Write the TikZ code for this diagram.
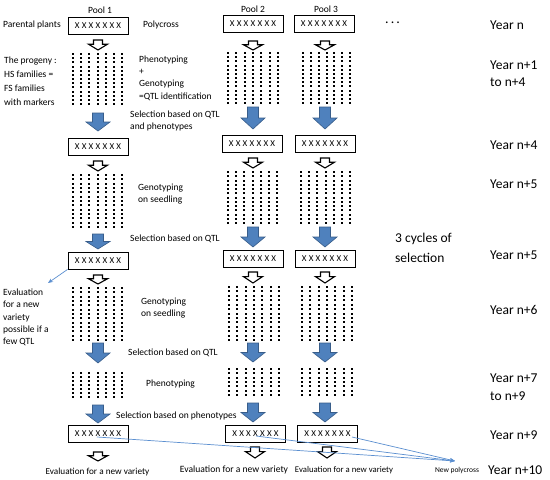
\documentclass[tikz,border=0pt]{standalone}
\usepackage{fontspec}
\setmainfont{Carlito}
\usetikzlibrary{arrows.meta}
\definecolor{arrowblue}{RGB}{79,129,189}
\definecolor{arrowedge}{RGB}{56,93,138}
\definecolor{thinblue}{RGB}{91,143,208}
\tikzset{
  lbl/.style={inner sep=0pt, font=\fontsize{9.5}{12}\selectfont, anchor=west, align=left},
  yr/.style={inner sep=0pt, font=\fontsize{13.5}{17.5}\selectfont, anchor=west, align=left},
  xbox/.style={draw=black, line width=0.8pt, fill=white, minimum width=60pt, minimum height=17pt, inner sep=0pt,
    font=\fontsize{9}{10}\selectfont\addfontfeature{LetterSpace=25}},
  openarrow/.style={draw=black, line width=1.1pt, fill=white, line join=miter},
  bluearrow/.style={fill=arrowblue, draw=arrowedge, line width=0.6pt, line join=miter},
  thinline/.style={draw=thinblue, line width=0.7pt},
  tipstyle/.style={-{Stealth[length=5pt,width=4pt]}},
}
% cx, ytop, ybot
\newcommand\openarr[3]{%
  \draw[openarrow] ({#1-4.5},#2) -- ({#1+4.5},#2) -- ({#1+4.5},{#2+0.42*(#3-#2)}) -- ({#1+9.5},{#2+0.42*(#3-#2)})
    -- (#1,#3) -- ({#1-9.5},{#2+0.42*(#3-#2)}) -- ({#1-4.5},{#2+0.42*(#3-#2)}) -- cycle;}
\newcommand\bluearr[3]{%
  \draw[bluearrow] ({#1-5.5},#2) -- ({#1+5.5},#2) -- ({#1+5.5},{#2+0.5*(#3-#2)}) -- ({#1+12},{#2+0.5*(#3-#2)})
    -- (#1,#3) -- ({#1-12},{#2+0.5*(#3-#2)}) -- ({#1-5.5},{#2+0.5*(#3-#2)}) -- cycle;}
% x0, x1, y0, y1, rows-1
\newcommand\dotmat[5]{%
  \foreach \i in {0,...,6}{\foreach \j in {0,...,#5}{%
    \fill ({round(#1+\i*(#2-#1)/6)-1},{round(#3+\j*(#4-#3)/#5)-1}) rectangle +(2,2);}}}
\begin{document}
\begin{tikzpicture}[x=1pt,y=-1pt]
\useasboundingbox (0,0) rectangle (550,480);
\fill[white] (0,0) rectangle (550,480);

% pool labels
\node[lbl, anchor=center] (pool1) at (100,10) {Pool 1};
\node[lbl, anchor=center] (pool2) at (253,9) {Pool 2};
\node[lbl, anchor=center] (pool3) at (326,9) {Pool 3};

% boxes
\node[xbox] (p1b1) at (98,25.5) {XXXXXXX};
\node[xbox] (p1b2) at (98,146.5) {XXXXXXX};
\node[xbox] (p1b3) at (98,260.5) {XXXXXXX};
\node[xbox] (p1b4) at (98,434) {XXXXXXX};
\node[xbox] (p2b1) at (253,24) {XXXXXXX};
\node[xbox] (p2b2) at (252,144) {XXXXXXX};
\node[xbox] (p2b3) at (253,259) {XXXXXXX};
\node[xbox] (p2b4) at (255.5,433.5) {XXXXXXX};
\node[xbox] (p3b1) at (324,24) {XXXXXXX};
\node[xbox] (p3b2) at (325,144) {XXXXXXX};
\node[xbox] (p3b3) at (325,259) {XXXXXXX};
\node[xbox] (p3b4) at (327.5,433.5) {XXXXXXX};

% open arrows
\openarr{98}{40}{50}\openarr{98}{161}{171}\openarr{98}{275}{284}\openarr{98}{452}{461}
\openarr{253}{41}{50}\openarr{253}{158}{168}\openarr{253}{272}{283}\openarr{255}{447}{458}
\openarr{325}{41}{50}\openarr{325}{158}{168}\openarr{325}{272}{283}\openarr{327}{447}{458}

% dot matrices
\dotmat{73}{122}{54}{104}{12}\dotmat{73}{122}{175}{227}{12}\dotmat{73}{122}{288}{340}{12}\dotmat{73}{122}{373}{397}{6}
\dotmat{228}{278}{53}{103}{12}\dotmat{228}{277}{172}{223}{12}\dotmat{229}{279}{287}{340}{12}\dotmat{229}{279}{369}{395}{6}
\dotmat{303}{350}{53}{103}{12}\dotmat{301}{350}{172}{223}{12}\dotmat{302}{352}{287}{340}{12}\dotmat{302}{352}{369}{395}{6}

% blue arrows
\bluearr{98}{113}{131}\bluearr{98}{234}{249}\bluearr{98}{343}{363}\bluearr{98}{405}{423}
\bluearr{253}{107}{129}\bluearr{253}{227}{247}\bluearr{253}{343}{362}\bluearr{253}{403}{422}
\bluearr{325}{107}{129}\bluearr{325}{227}{247}\bluearr{325}{343}{362}\bluearr{325}{403}{422}

% left texts
\node[lbl] (parental) at (3,25) {Parental plants};
\node[lbl] (polycross) at (143,25) {Polycross};
\node[yr, font=\fontsize{14}{17}\selectfont\addfontfeature{LetterSpace=15}] (dots) at (385,23) {...};
\node[lbl, font=\fontsize{9.5}{14}\selectfont] (progeny) at (4,81) {The progeny :\\HS families =\\FS families\\with markers};
\node[lbl, font=\fontsize{9.5}{12.3}\selectfont] (pheno1) at (139,78) {Phenotyping\\+\\Genotyping\\=QTL identification};
\node[lbl] (sel1) at (130,121) {Selection based on QTL\\and phenotypes};
\node[lbl] (geno1) at (138,194) {Genotyping\\on seedling};
\node[lbl] (sel2) at (130,239) {Selection based on QTL};
\node[yr, font=\fontsize{13.5}{19.5}\selectfont] (cycles) at (395,248) {3 cycles of\\selection};
\node[lbl, font=\fontsize{9.5}{12.2}\selectfont] (evalq) at (3,317.5) {Evaluation\\for a new\\variety\\possible if a\\few QTL};
\node[lbl] (geno2) at (141,308) {Genotyping\\on seedling};
\node[lbl] (sel3) at (128,353) {Selection based on QTL};
\node[lbl] (pheno2) at (146,384) {Phenotyping};
\node[lbl] (sel4) at (116,416) {Selection based on phenotypes};
\node[lbl, anchor=center, font=\fontsize{9.2}{11}\selectfont] (ev1) at (97.5,472) {Evaluation for a new variety};
\node[lbl, anchor=center, font=\fontsize{9.6}{11}\selectfont] (ev2) at (234,470) {Evaluation for a new variety};
\node[lbl, anchor=center, font=\fontsize{8.7}{11}\selectfont] (ev3) at (344,470) {Evaluation for a new variety};
\node[lbl, anchor=center, font=\fontsize{7.5}{9}\selectfont] (newpoly) at (457,470) {New polycross};

% years
\node[yr] (y1) at (490,25) {Year n};
\node[yr] (y2) at (490,73.5) {Year n+1\\to n+4};
\node[yr] (y3) at (490,145) {Year n+4};
\node[yr] (y4) at (490,184) {Year n+5};
\node[yr] (y5) at (490,255) {Year n+5};
\node[yr] (y6) at (490,310) {Year n+6};
\node[yr] (y7) at (490,387) {Year n+7\\to n+9};
\node[yr] (y8) at (490,435) {Year n+9};
\node[yr] (y9) at (488,470) {Year n+10};

% thin connectors
\coordinate (evtip) at (48,283);
\draw[thinline, tipstyle] (p1b3.south west) -- (evtip);
\coordinate (s1) at (97,437);
\coordinate (s2) at (256,436);
\coordinate (s3) at (352,437);
\coordinate (tip) at (455,461);
\draw[thinline, tipstyle] (s1) -- (tip);
\draw[thinline, tipstyle] (s2) -- (tip);
\draw[thinline, tipstyle] (s3) -- (tip);
\end{tikzpicture}
\end{document}
